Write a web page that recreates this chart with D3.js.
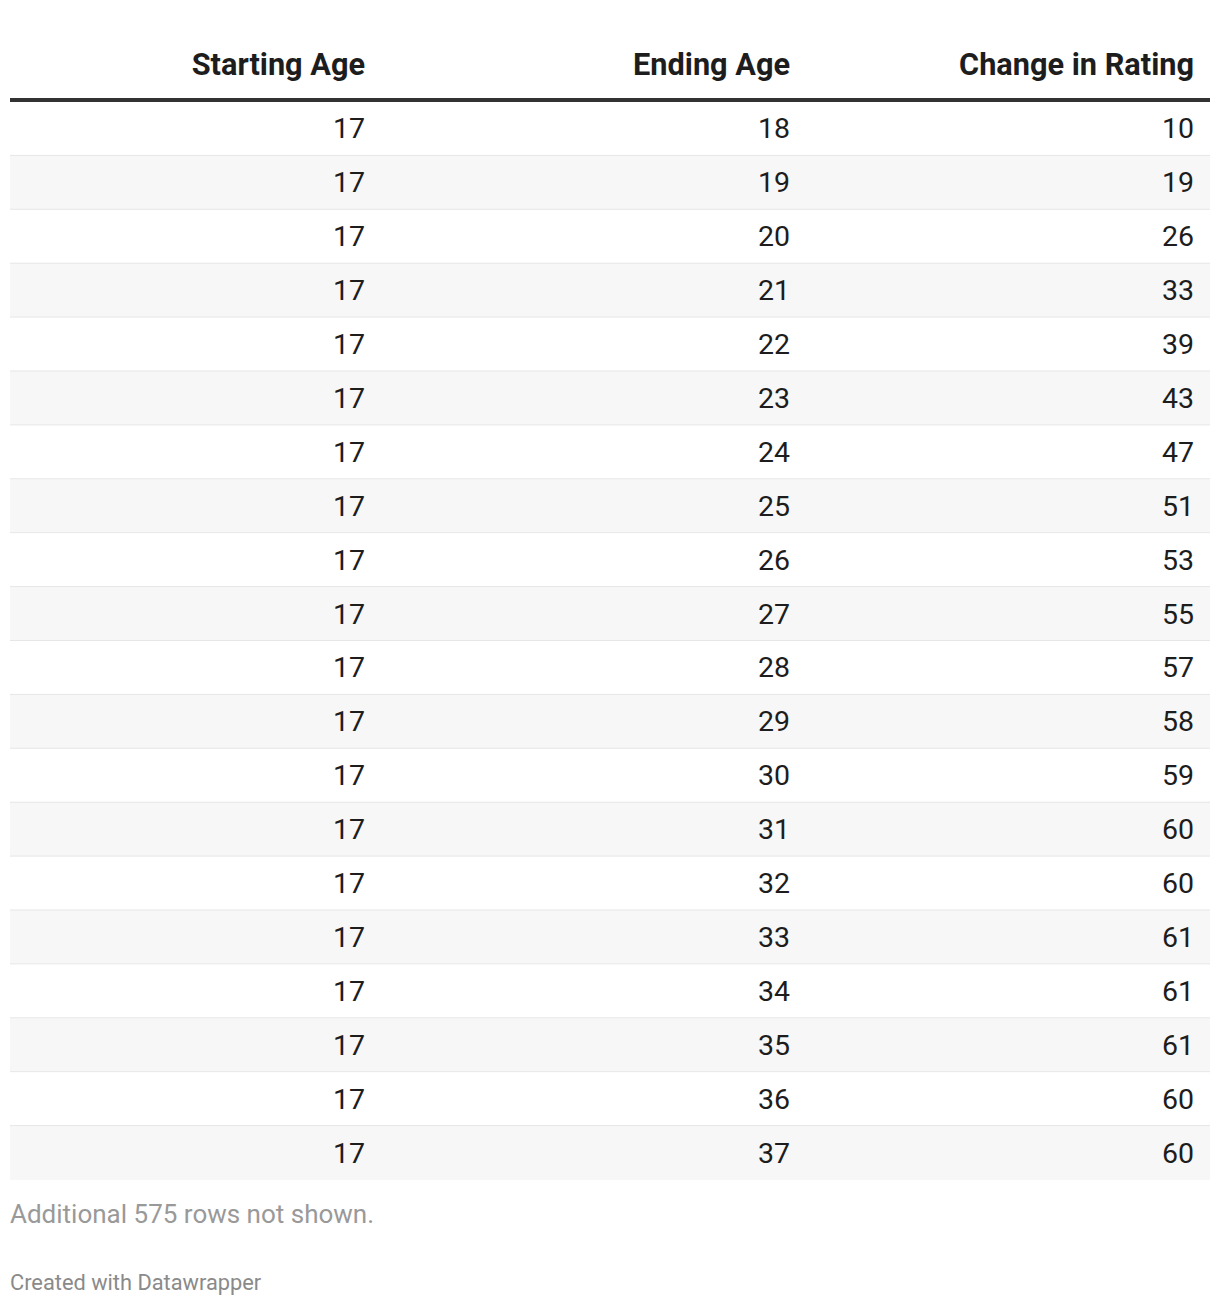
<!DOCTYPE html>
<html><head><meta charset="utf-8">
<script src="https://cdn.jsdelivr.net/npm/d3@7"></script>
<style>
html,body{margin:0;padding:0;background:#fff;}
svg{display:block;font-family:Roboto, "Noto Sans", sans-serif;}
</style></head>
<body>
<div id="chart"></div>
<script>
const columns = ["Starting Age", "Ending Age", "Change in Rating"];
const startingAge = [17,17,17,17,17,17,17,17,17,17,17,17,17,17,17,17,17,17,17,17];
const endingAge = [18,19,20,21,22,23,24,25,26,27,28,29,30,31,32,33,34,35,36,37];
const changeInRating = [10,19,26,33,39,43,47,51,53,55,57,58,59,60,60,61,61,61,60,60];
const note = "Additional 575 rows not shown.";
const credit = "Created with Datawrapper";

const W = 1220, H = 1306;
const left = 10, right = 1210;
const rows = startingAge.map((s,i)=>[s, endingAge[i], changeInRating[i]]);

const svg = d3.select("#chart").append("svg").attr("width", W).attr("height", H);

// column right edges
const colRight = d3.scaleOrdinal().domain(columns).range([365, 790, 1194]);
const y = d3.scaleBand().domain(d3.range(rows.length)).range([102, 1180]).paddingInner(0);

// header
svg.selectAll("text.head").data(columns).join("text")
  .attr("class","head")
  .attr("x", d=>colRight(d)).attr("y", 74.5)
  .attr("text-anchor","end")
  .attr("font-size", 30.7).attr("font-weight", 700).attr("fill", "#1d1d1d")
  .text(d=>d);

svg.append("rect").attr("x", left).attr("y", 98).attr("width", right-left).attr("height", 4).attr("fill", "#333");

const g = svg.selectAll("g.row").data(rows).join("g").attr("class","row")
  .attr("transform", (d,i)=>`translate(0,${y(i)})`);

g.append("rect").attr("x", left).attr("y", 0).attr("width", right-left).attr("height", y.bandwidth())
  .attr("fill", (d,i)=> i%2 ? "#f7f7f7" : "#ffffff");
g.filter((d,i)=>i < rows.length-1).append("rect").attr("x", left).attr("y", y.bandwidth()-1)
  .attr("width", right-left).attr("height", 1.5).attr("fill", "#e6e6e6");

g.selectAll("text").data(d=>d.map((v,j)=>({v, c: columns[j]}))).join("text")
  .attr("x", d=>colRight(d.c)).attr("y", y.bandwidth()/2 + 9.5)
  .attr("text-anchor","end").attr("font-size", 28.5).attr("fill", "#1d1d1d")
  .text(d=>d.v);

svg.append("text").attr("x", left).attr("y", 1222.5).attr("font-size", 26).attr("fill", "#999")
  .text(note);
svg.append("text").attr("x", left).attr("y", 1290).attr("font-size", 21.8).attr("fill", "#8a8a8a")
  .text(credit);
</script>
</body></html>
